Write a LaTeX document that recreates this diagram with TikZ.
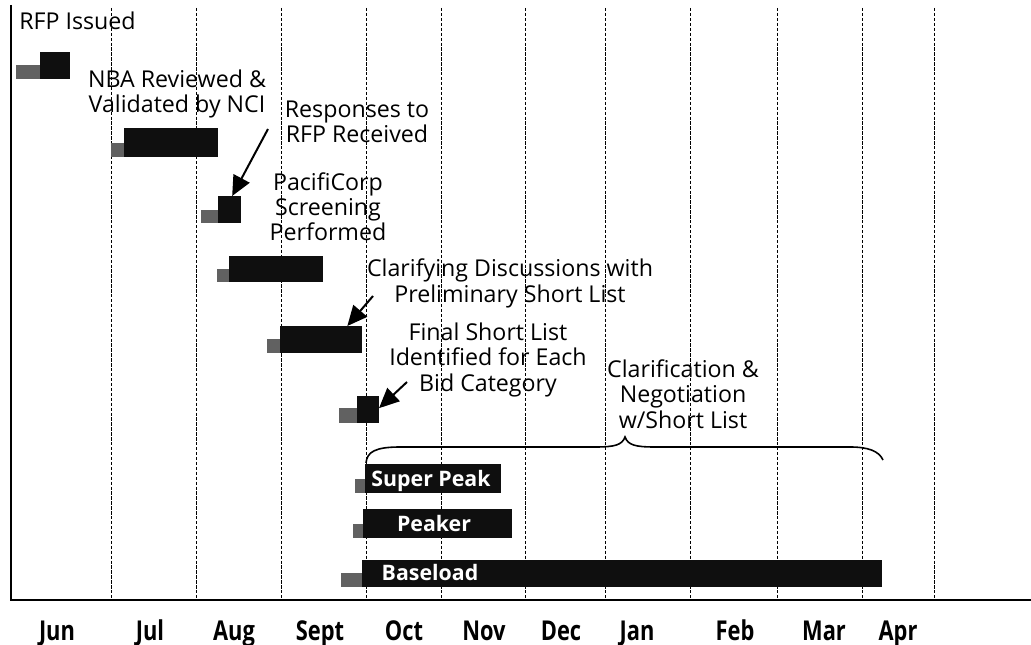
\documentclass[tikz,border=0pt]{standalone}
\usepackage{fontspec}
\setmainfont{Open Sans}
\newfontfamily\monthfont[FakeStretch=0.8]{Open Sans}
\usetikzlibrary{arrows.meta}
\definecolor{barc}{gray}{0.06}
\definecolor{shadowc}{gray}{0.38}
\newcommand\ganttbar[7]{%
  \fill[shadowc] (#6,#7) rectangle (#2,#5);
  \node[barbox, anchor=north west, minimum width={(#4-#2)*0.75pt}, minimum height={(#5-#3)*0.75pt}] (#1) at (#2,#3) {};
}
\begin{document}
\begin{tikzpicture}[x=0.75pt,y=-0.75pt,
  lbl/.style={font=\fontsize{17.4}{18.8}\selectfont, inner sep=0pt, align=center, anchor=base},
  barbox/.style={fill=barc, draw=none, inner sep=0pt, outer sep=0pt},
  barlabel/.style={font=\bfseries\fontsize{16}{18}\selectfont, text=white, inner sep=0pt, anchor=base},
  month/.style={font=\monthfont\bfseries\fontsize{20.5}{22}\selectfont, inner sep=0pt, anchor=base},
  grid/.style={line width=0.75pt, dash pattern=on 2.5pt off 1.2pt},
  axis/.style={line width=1.8pt},
  arr/.style={line width=1.5pt, -{Triangle[length=15pt,width=13.5pt]}},
  brace/.style={line width=1.2pt}]
\useasboundingbox (0,0) rectangle (1031,645);
% dashed month grid
\foreach \gx in {111,196,281,366,441,525,605,690,777,862,934}
  \draw[grid] (\gx,8) -- (\gx,600);
% axes
\draw[axis] (11,5) -- (11,600);
\draw[axis] (10,600) -- (1031,600);
% bars
\ganttbar{rfp}{40}{52}{70}{79}{16}{65}
\ganttbar{nba}{124}{128}{218}{157}{111}{143}
\ganttbar{pc}{218}{196}{241}{223}{201}{210}
\ganttbar{scr}{229}{256}{323}{282}{217}{269}
\ganttbar{clar}{280}{326}{362}{353}{267}{339}
\ganttbar{fin}{357}{396}{379}{423}{339}{408}
\ganttbar{sp}{365}{464}{501}{493}{355}{479}
\ganttbar{pk}{363}{509}{512}{538}{353}{524}
\ganttbar{bl}{362}{560}{882}{587}{341}{573}
% bar labels
\node[barlabel] (tsp) at (431,486) {Super Peak};
\node[barlabel] (tpk) at (434,531) {Peaker};
\node[barlabel] (tbl) at (430,580) {Baseload};
% annotations (base = baseline of the last line)
\node[lbl, anchor=base west] (trfp) at (19,30) {RFP Issued};
\node[lbl] (tnba) at (177,113) {NBA Reviewed \&\\Validated by NCI};
\node[lbl] (tresp) at (357,143) {Responses to\\RFP Received};
\node[lbl] (tpc) at (328,241) {PacifiCorp\\Screening\\Performed};
\node[lbl] (tclar) at (510,302) {Clarifying Discussions with\\Preliminary Short List};
\node[lbl] (tfin) at (488,391) {Final Short List\\Identified for Each\\Bid Category};
\node[lbl] (tneg) at (683,428) {Clarification \&\\Negotiation\\w/Short List};
% arrows
\coordinate (a1) at (268,129);
\coordinate (a2) at (373,296);
\coordinate (a3) at (407,382);
\draw[arr] (a1) -- ([xshift=2pt]pc.north);
\draw[arr] (a2) -- ([xshift=-11pt]clar.north east);
\draw[arr] (a3) -- ([yshift=1pt]fin.east);
% brace
\coordinate (brL) at (366,463);
\coordinate (brM) at (625,437);
\coordinate (brR) at (883,460);
\draw[brace] (brL) .. controls (367,452) and (375,447) .. (400,447) -- (595,447)
  .. controls (615,447) and (622,445) .. (brM)
  .. controls (628,445) and (635,447) .. (655,447) -- (850,447)
  .. controls (868,447) and (879,451) .. (brR);
% months
\node[month] (mjun) at (57,640) {Jun};
\node[month] (mjul) at (150,640) {Jul};
\node[month] (maug) at (234,640) {Aug};
\node[month] (msep) at (320,640) {Sept};
\node[month] (moct) at (404,640) {Oct};
\node[month] (mnov) at (484,640) {Nov};
\node[month] (mdec) at (561,640) {Dec};
\node[month] (mjan) at (637,640) {Jan};
\node[month] (mfeb) at (735,640) {Feb};
\node[month] (mmar) at (824,640) {Mar};
\node[month] (mapr) at (898,640) {Apr};
\end{tikzpicture}
\end{document}
